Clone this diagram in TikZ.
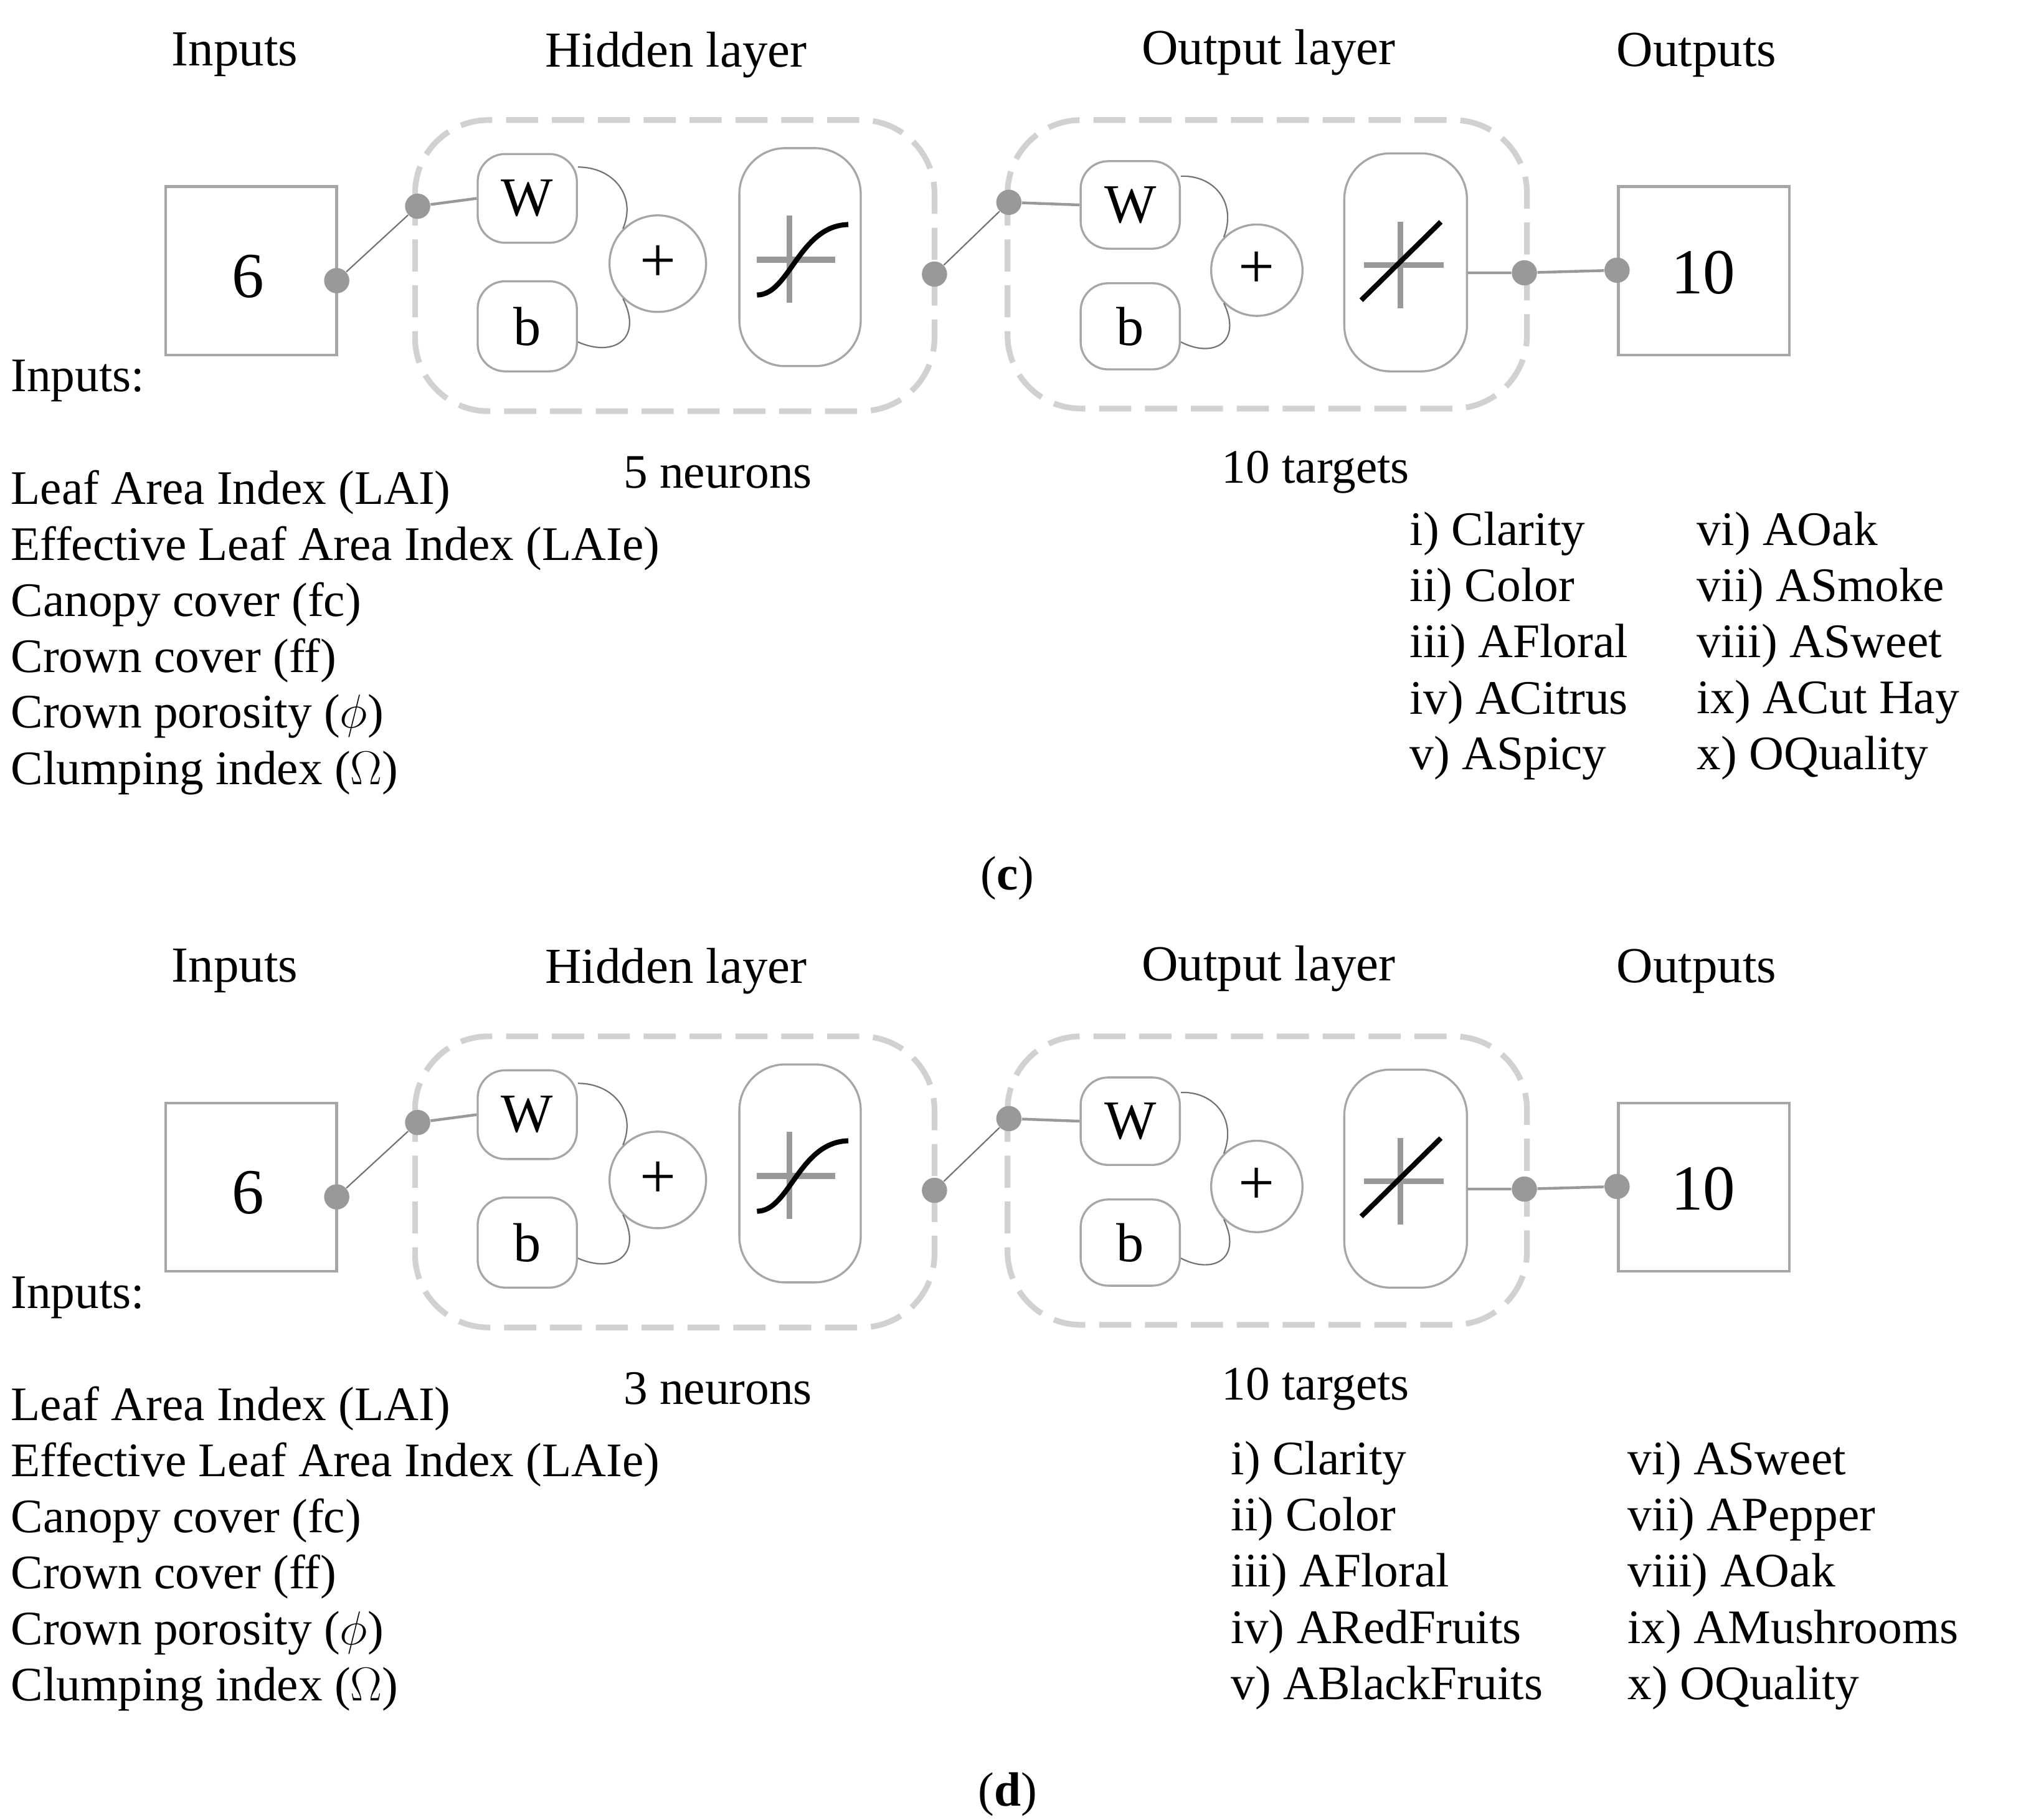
\documentclass[tikz,border=0pt]{standalone}
\usepackage{fontspec}
\setmainfont{Liberation Serif}
\begin{document}
\begin{tikzpicture}[x=0.02cm,y=-0.02cm,
  txt/.style={font=\fontsize{21}{24}\selectfont,inner sep=0pt},
  ttl/.style={font=\fontsize{22}{26}\selectfont,inner sep=0pt},
  lst/.style={font=\fontsize{21}{24}\selectfont,inner sep=0pt,anchor=west},
  gbox/.style={draw=black!35,line width=1.2pt,fill=white},
  rbox/.style={draw=black!35,line width=0.9pt,rounded corners=12pt,fill=white},
  dashbox/.style={draw=black!18,line width=2.5pt,dash pattern=on 14pt off 6pt,rounded corners=32pt},
  dot/.style={circle,fill=black!40,minimum size=11pt,inner sep=0pt},
  wire/.style={draw=black!55,line width=0.6pt},
  gwire/.style={draw=black!40,line width=1.2pt}]
\useasboundingbox (0,0) rectangle (1560,1394);
\newcommand\drawpanel[3]{%
\begin{scope}[yshift=#1]
 \node[ttl] (#3t1) at (180,42) {Inputs};
 \node[ttl] (#3t2) at (518,42) {Hidden layer};
 \node[ttl] (#3t3) at (972,40) {Output layer};
 \node[ttl] (#3t4) at (1300,42) {Outputs};
 \draw[dashbox] (318,92) rectangle (716,315);
 \draw[dashbox] (772,92) rectangle (1170,313);
 \draw[gbox] (127,143) rectangle (258,272);
 \node[font=\fontsize{28}{30}\selectfont] (#3six) at (190,212) {6};
 \draw[gbox] (1240,143) rectangle (1371,272);
 \node[font=\fontsize{28}{30}\selectfont] (#3ten) at (1305,209) {10};
 % hidden
 \node[rbox,minimum width=76*0.02cm,minimum height=68*0.02cm] (#3W) at (404,152) {\fontsize{24}{26}\selectfont W};
 \node[rbox,minimum width=76*0.02cm,minimum height=69*0.02cm] (#3b) at (404,250) {\fontsize{24}{26}\selectfont b};
 \node[circle,draw=black!35,line width=0.9pt,minimum size=74*0.02cm,inner sep=0pt] (#3p) at (504,202) {\fontsize{28}{30}\selectfont +};
 \node[draw=black!35,line width=0.9pt,rounded corners=20pt,minimum width=93*0.02cm,minimum height=167*0.02cm] (#3f) at (613,197) {};
 \draw[black!40,line width=2.5pt] (605,165)--(605,232) (580,199)--(640,199);
 \draw[black,line width=2.2pt] (580,226) .. controls (605,226) and (612,173) .. (650,172);
 \draw[wire] (#3W.east) ++(0,-24) .. controls (470,128) and (488,150) .. (#3p.north west);
 \draw[wire] (#3b.east) ++(0,12) .. controls (470,274) and (493,260) .. (#3p.south west);
 % output
 \node[rbox,minimum width=76*0.02cm,minimum height=67*0.02cm] (#3W2) at (866,157) {\fontsize{24}{26}\selectfont W};
 \node[rbox,minimum width=76*0.02cm,minimum height=66*0.02cm] (#3b2) at (866,250) {\fontsize{24}{26}\selectfont b};
 \node[circle,draw=black!35,line width=0.9pt,minimum size=70*0.02cm,inner sep=0pt] (#3p2) at (963,207) {\fontsize{28}{30}\selectfont +};
 \node[draw=black!35,line width=0.9pt,rounded corners=20pt,minimum width=94*0.02cm,minimum height=167*0.02cm] (#3f2) at (1077,201) {};
 \draw[black!40,line width=2.5pt] (1073,170)--(1073,236) (1045,203)--(1106,203);
 \draw[black,line width=2.2pt] (1043,230) -- (1104,170);
 \draw[wire] (#3W2.east) ++(0,-22) .. controls (930,134) and (948,155) .. (#3p2.north west);
 \draw[wire] (#3b2.east) ++(0,12) .. controls (930,275) and (952,262) .. (#3p2.south west);
 % dots
 \node[dot] (#3d1) at (258,215) {};
 \node[dot] (#3d2) at (320,158) {};
 \node[dot] (#3d3) at (716,210) {};
 \node[dot] (#3d4) at (773,155) {};
 \node[dot] (#3d5) at (1168,209) {};
 \node[dot] (#3d6) at (1239,207) {};
 \draw[wire] (#3d1)--(#3d2); \draw[wire] (#3d3)--(#3d4);
 \draw[gwire] (#3d2)--(#3W.west); \draw[gwire] (#3d4)--(#3W2.west);
 \draw[gwire] (#3f2.east |- #3d5)--(#3d5)--(#3d6);
 \node[lst] (#3il) at (8,292) {Inputs:};
 \node[lst] (#3i1) at (8,377) {Leaf Area Index (LAI)};
 \node[lst] (#3i2) at (8,420) {Effective Leaf Area Index (LAIe)};
 \node[lst] (#3i3) at (8,463) {Canopy cover (fc)};
 \node[lst] (#3i4) at (8,506) {Crown cover (ff)};
 \node[lst] (#3i5) at (8,549) {Crown porosity ($\phi$)};
 \node[lst] (#3i6) at (8,592) {Clumping index ($\Omega$)};
 \node[txt] (#3n) at (550,362) {#2};
 \node[txt] (#3tg) at (1008,362) {10 targets};
\end{scope}}
\drawpanel{0}{5 neurons}{c}
\drawpanel{-702*0.02cm}{3 neurons}{d}
\foreach \t [count=\i] in {i) Clarity,ii) Color,iii) AFloral,iv) ACitrus,v) ASpicy}
  \node[lst] (ca\i) at (1080,366+43*\i) {\t};
\foreach \t [count=\i] in {vi) AOak,vii) ASmoke,viii) ASweet,ix) ACut Hay,x) OQuality}
  \node[lst] (cb\i) at (1300,366+43*\i) {\t};
\foreach \t [count=\i] in {i) Clarity,ii) Color,iii) AFloral,iv) ARedFruits,v) ABlackFruits}
  \node[lst] (da\i) at (943,1078+43*\i) {\t};
\foreach \t [count=\i] in {vi) ASweet,vii) APepper,viii) AOak,ix) AMushrooms,x) OQuality}
  \node[lst] (db\i) at (1247,1078+43*\i) {\t};
\node[txt] (lc) at (772,673) {(\textbf{c})};
\node[txt] (ld) at (772,1375) {(\textbf{d})};
\end{tikzpicture}
\end{document}
